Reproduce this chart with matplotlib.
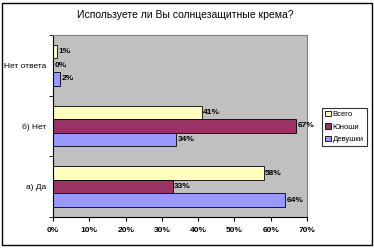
import matplotlib
matplotlib.use("Agg")
import matplotlib.pyplot as plt
import numpy as np
from matplotlib.patches import Rectangle

plt.rcParams["font.family"] = ["Liberation Sans", "DejaVu Sans"]

categories = ["а) Да", "б) Нет", "Нет ответа"]
series_names = ["Всего", "Юноши", "Девушки"]
vsego = [58, 41, 1]
yunoshi = [33, 67, 0]
devushki = [64, 34, 2]
colors = ["#FFFFC0", "#993366", "#9999FF"]
xticks = [0, 10, 20, 30, 40, 50, 60, 70]
title = "Используете ли Вы солнцезащитные крема?"

fig = plt.figure(figsize=(3.74, 2.48), dpi=100)
fig.patches.append(Rectangle((0.006, 0.012), 0.988, 0.976, transform=fig.transFigure,
                             fill=False, edgecolor="black", linewidth=1.0))
ax = fig.add_axes([0.142, 0.125, 0.679, 0.734])
ax.set_facecolor("#C0C0C0")

y = np.arange(len(categories))
h = 0.225
values = [vsego, yunoshi, devushki]
for i, (vals, name, col) in enumerate(zip(values, series_names, colors)):
    pos = y + (1 - i) * h
    ax.barh(pos, vals, height=h, color=col, edgecolor="black", linewidth=0.6, label=name)
    for p, v in zip(pos, vals):
        ax.text(v + 0.4, p, f"{v}%", va="center", ha="left", fontsize=6,
                fontweight="bold")

ax.set_xlim(0, 70)
ax.set_ylim(-0.5, 2.5)
ax.set_xticks(xticks)
ax.set_xticklabels([f"{t}%" for t in xticks], fontsize=6, fontweight="bold")
ax.set_yticks(y)
ax.set_yticklabels(categories, fontsize=6)
ax.set_yticks([0.5, 1.5, 2.5, -0.5], minor=True)
ax.tick_params(axis="y", which="major", length=0, pad=5)
ax.tick_params(axis="y", which="minor", length=3, direction="out")
ax.tick_params(axis="x", length=3, direction="out", pad=4)
for s in ["top", "right"]:
    ax.spines[s].set_color("#808080")
    ax.spines[s].set_linewidth(0.8)
for s in ["left", "bottom"]:
    ax.spines[s].set_linewidth(0.8)

fig.text(0.495, 0.94, title, ha="center", va="center", fontsize=7.5)

handles, labels = ax.get_legend_handles_labels()
leg = fig.legend(handles, labels, loc="upper left", bbox_to_anchor=(0.862, 0.565),
                 fontsize=5.5, frameon=True, fancybox=False, edgecolor="black",
                 handlelength=0.7, handleheight=0.7, handletextpad=0.25,
                 borderpad=0.4, labelspacing=0.65, borderaxespad=0)
leg.get_frame().set_linewidth(0.8)

fig.savefig("out.png", dpi=100)
